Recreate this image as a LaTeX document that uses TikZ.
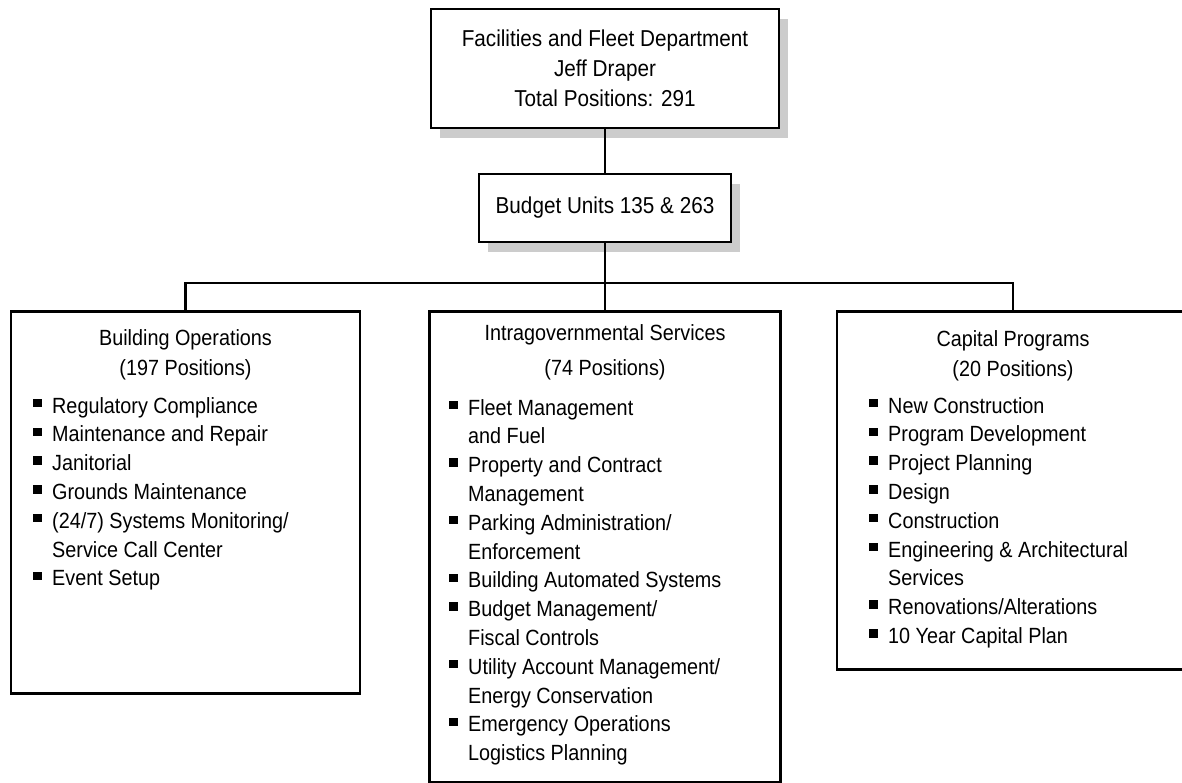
\documentclass[tikz,border=0pt]{standalone}
\usepackage{fontspec}
\setmainfont{Liberation Sans}[FakeStretch=0.9]
\usetikzlibrary{shadows}

\tikzset{
  orgbox/.style={draw, line width=2.6pt, fill=white, inner sep=0pt},
  headbox/.style={orgbox, align=center, font=\fontsize{23}{30}\selectfont,
    drop shadow={shadow xshift=9pt, shadow yshift=-10pt, fill=gray!40, opacity=1}},
  unitbox/.style={orgbox, anchor=north},
  title/.style={anchor=base, inner sep=0pt, font=\fontsize{22}{29}\selectfont},
  item/.style={anchor=base west, inner sep=0pt, font=\fontsize{22}{29}\selectfont},
  bullet/.style={fill=black, minimum size=8.5pt, inner sep=0pt},
  link/.style={line width=2.6pt}
}

\begin{document}
\begin{tikzpicture}[x=1pt, y=-1pt]
        \useasboundingbox (0,0) rectangle (1182,783);
        \clip (0,0) rectangle (1182,783);

        %Department
        \node [headbox, minimum width=348, minimum height=119] (dept) at (605,68.5)
          {Facilities and Fleet Department\\Jeff Draper\\Total Positions: 291};
        %Budget units
        \node [headbox, minimum width=252, minimum height=68] (budget) at (605,208)
          {Budget Units 135 \& 263};

        %Divisions
        \node [unitbox, minimum width=349, minimum height=382] (bldg)    at (185.5,310) {};
        \node [unitbox, minimum width=351, minimum height=471] (intra)   at (605,310) {};
        \node [unitbox, minimum width=352, minimum height=358] (capital) at (1013,310) {};

        %Links
        \coordinate (split) at (605,283);
        \draw [link] (dept) -- (budget);
        \draw [link] (budget.south) -- (intra.north);
        \draw [link] (bldg.north) |- (split) -| (capital.north);

        %Building Operations
        \node [title] (bldg-t1) at (185.5,345) {Building Operations};
        \node [title] (bldg-t2) at (185.5,375) {(197 Positions)};
        \node [bullet] (bldg-b1) at (37.5,403.0) {};
        \node [item]   (bldg-i1) at (52,413.0) {Regulatory Compliance};
        \node [bullet] (bldg-b2) at (37.5,431.8) {};
        \node [item]   (bldg-i2) at (52,441.8) {Maintenance and Repair};
        \node [bullet] (bldg-b3) at (37.5,460.6) {};
        \node [item]   (bldg-i3) at (52,470.6) {Janitorial};
        \node [bullet] (bldg-b4) at (37.5,489.4) {};
        \node [item]   (bldg-i4) at (52,499.4) {Grounds Maintenance};
        \node [bullet] (bldg-b5) at (37.5,518.2) {};
        \node [item]   (bldg-i5) at (52,528.2) {(24/7) Systems Monitoring/};
        \node [item]   (bldg-i6) at (52,557.0) {Service Call Center};
        \node [bullet] (bldg-b7) at (37.5,575.8) {};
        \node [item]   (bldg-i7) at (52,585.8) {Event Setup};

        %Intragovernmental Services
        \node [title] (intra-t1) at (605,340) {Intragovernmental Services};
        \node [title] (intra-t2) at (605,375) {(74 Positions)};
        \node [bullet] (intra-b1)  at (453.5,405.0) {};
        \node [item]   (intra-i1)  at (468,415.0) {Fleet Management};
        \node [item]   (intra-i2)  at (468,443.8) {and Fuel};
        \node [bullet] (intra-b3)  at (453.5,462.6) {};
        \node [item]   (intra-i3)  at (468,472.6) {Property and Contract};
        \node [item]   (intra-i4)  at (468,501.4) {Management};
        \node [bullet] (intra-b5)  at (453.5,520.2) {};
        \node [item]   (intra-i5)  at (468,530.2) {Parking Administration/};
        \node [item]   (intra-i6)  at (468,559.0) {Enforcement};
        \node [bullet] (intra-b7)  at (453.5,577.8) {};
        \node [item]   (intra-i7)  at (468,587.8) {Building Automated Systems};
        \node [bullet] (intra-b8)  at (453.5,606.6) {};
        \node [item]   (intra-i8)  at (468,616.6) {Budget Management/};
        \node [item]   (intra-i9)  at (468,645.4) {Fiscal Controls};
        \node [bullet] (intra-b10) at (453.5,664.2) {};
        \node [item]   (intra-i10) at (468,674.2) {Utility Account Management/};
        \node [item]   (intra-i11) at (468,703.0) {Energy Conservation};
        \node [bullet] (intra-b12) at (453.5,721.8) {};
        \node [item]   (intra-i12) at (468,731.8) {Emergency Operations};
        \node [item]   (intra-i13) at (468,760.6) {Logistics Planning};

        %Capital Programs
        \node [title] (capital-t1) at (1013,346) {Capital Programs};
        \node [title] (capital-t2) at (1013,376) {(20 Positions)};
        \node [bullet] (capital-b1) at (873.5,403.0) {};
        \node [item]   (capital-i1) at (888,413.0) {New Construction};
        \node [bullet] (capital-b2) at (873.5,431.8) {};
        \node [item]   (capital-i2) at (888,441.8) {Program Development};
        \node [bullet] (capital-b3) at (873.5,460.6) {};
        \node [item]   (capital-i3) at (888,470.6) {Project Planning};
        \node [bullet] (capital-b4) at (873.5,489.4) {};
        \node [item]   (capital-i4) at (888,499.4) {Design};
        \node [bullet] (capital-b5) at (873.5,518.2) {};
        \node [item]   (capital-i5) at (888,528.2) {Construction};
        \node [bullet] (capital-b6) at (873.5,547.0) {};
        \node [item]   (capital-i6) at (888,557.0) {Engineering \& Architectural};
        \node [item]   (capital-i7) at (888,585.8) {Services};
        \node [bullet] (capital-b8) at (873.5,604.6) {};
        \node [item]   (capital-i8) at (888,614.6) {Renovations/Alterations};
        \node [bullet] (capital-b9) at (873.5,633.4) {};
        \node [item]   (capital-i9) at (888,643.4) {10 Year Capital Plan};
      \end{tikzpicture}
\end{document}
